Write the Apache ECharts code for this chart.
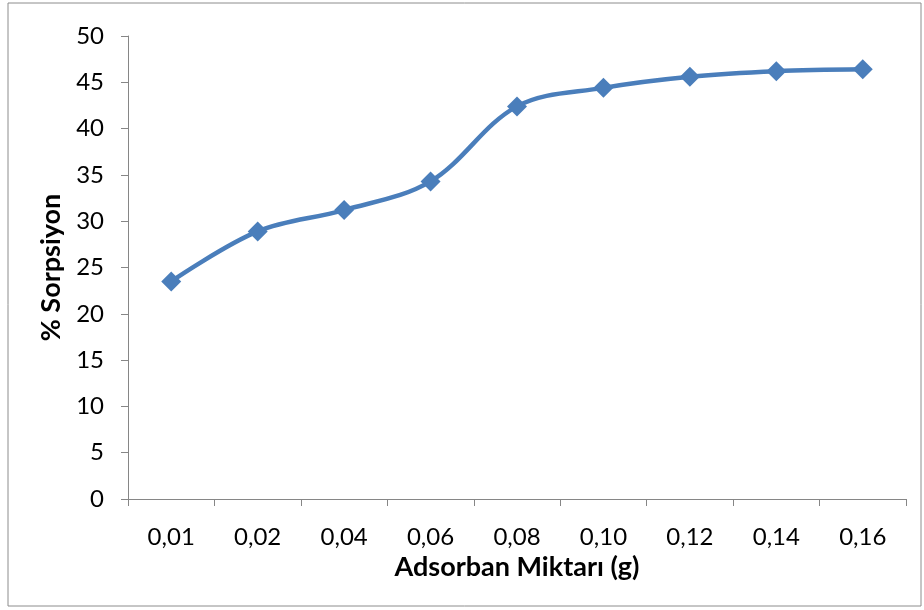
<!DOCTYPE html>
<html><head><meta charset="utf-8">
<script src="https://cdn.jsdelivr.net/npm/echarts@6/dist/echarts.min.js"></script>
<style>html,body{margin:0;padding:0;background:#fff}#c{width:924px;height:610px}</style>
</head><body><div id="c"></div>
<script>
const categories = ['0,01','0,02','0,04','0,06','0,08','0,10','0,12','0,14','0,16'];
const sorption = [23.5, 28.9, 31.2, 34.3, 42.4, 44.4, 45.6, 46.2, 46.4];
const yTicks = {min: 0, max: 50, interval: 5};
const xTitle = 'Adsorban Miktarı (g)';
const yTitle = '% Sorpsiyon';

const chart = echarts.init(document.getElementById('c'));
const axisGray = '#868686';
const font = 'Lato, "Open Sans", sans-serif';
chart.setOption({
  animation: false,
  graphic: [{type:'rect', shape:{x:8, y:3, width:913, height:603}, style:{fill:'none', stroke:'#8c8c8c', lineWidth:1}}],
  grid: {left: 128, right: 18, top: 36, bottom: 111},
  xAxis: {
    type: 'category', data: categories, boundaryGap: true,
    name: xTitle, nameLocation: 'middle', nameGap: 54,
    nameTextStyle: {fontFamily: font, fontWeight: 'bold', fontSize: 27, color: '#000'},
    axisLine: {lineStyle: {color: axisGray, width: 1}},
    axisTick: {show: true, length: 7, alignWithLabel: false, lineStyle: {color: axisGray}},
    axisLabel: {fontFamily: font, fontSize: 24, color: '#000', margin: 26},
    splitLine: {show: false}
  },
  yAxis: {
    type: 'value', min: yTicks.min, max: yTicks.max, interval: yTicks.interval,
    name: yTitle, nameLocation: 'middle', nameGap: 63, nameRotate: 90,
    nameTextStyle: {fontFamily: font, fontWeight: 'bold', fontSize: 27, color: '#000'},
    axisLine: {show: true, lineStyle: {color: axisGray, width: 1}},
    axisTick: {show: true, inside: false, length: 7, lineStyle: {color: axisGray}},
    axisLabel: {fontFamily: font, fontSize: 24, color: '#000', margin: 24},
    splitLine: {show: false}
  },
  series: [{
    type: 'line', data: sorption, smooth: 0.35,
    symbol: 'diamond', symbolSize: 20,
    lineStyle: {color: '#4A7EBB', width: 4.5},
    itemStyle: {color: '#4A7EBB'}
  }]
});
</script></body></html>
